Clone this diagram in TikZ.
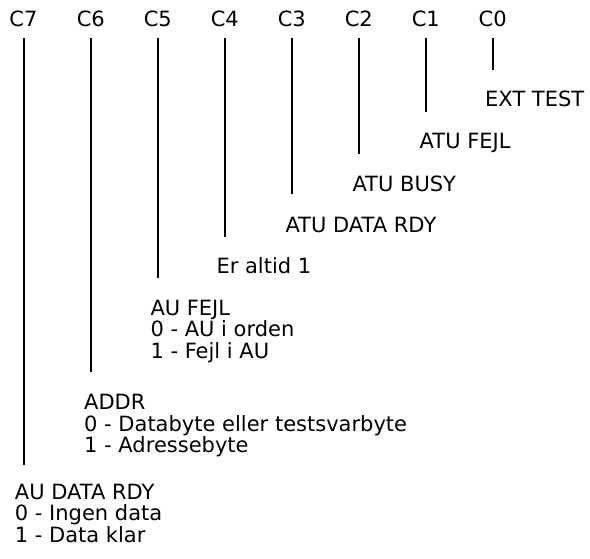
\documentclass[tikz,border=0pt]{standalone}
\usepackage{fontspec}
\setmainfont{DejaVu Sans}
\begin{document}
\begin{tikzpicture}[x=1pt,y=-1pt,
  txt/.style={inner sep=0pt,anchor=base west,font=\fontsize{21}{22}\selectfont},
  bitlbl/.style={inner sep=0pt,anchor=base,font=\fontsize{21}{22}\selectfont},
  bitline/.style={line width=2pt}]
\useasboundingbox (0,0) rectangle (590,558);
% top bit labels
\node[bitlbl] (c7) at (23.5,26.7) {C7};
\node[bitlbl] (c6) at (90.8,26.7) {C6};
\node[bitlbl] (c5) at (157.8,26.7) {C5};
\node[bitlbl] (c4) at (224.8,26.7) {C4};
\node[bitlbl] (c3) at (291.8,26.7) {C3};
\node[bitlbl] (c2) at (358.8,26.7) {C2};
\node[bitlbl] (c1) at (425.8,26.7) {C1};
\node[bitlbl] (c0) at (492.7,26.7) {C0};
% line ends
\coordinate (e7) at (23.5,465);
\coordinate (e6) at (90.8,372);
\coordinate (e5) at (157.8,278);
\coordinate (e4) at (224.8,237);
\coordinate (e3) at (291.8,194);
\coordinate (e2) at (358.8,153.5);
\coordinate (e1) at (425.8,111.7);
\coordinate (e0) at (492.7,70);
\foreach \i in {0,...,7}{
  \draw[bitline] ([yshift=-11.6pt]c\i.base) -- (e\i);
}
% descriptions
\node[txt] (t0) at (485,106) {EXT TEST};
\node[txt] (t1) at (419.5,148.3) {ATU FEJL};
\node[txt] (t2) at (352.3,191) {ATU BUSY};
\node[txt] (t3) at (285.3,232.7) {ATU DATA RDY};
\node[txt] (t4) at (216.3,273.3) {Er altid 1};
\node[txt] (t5a) at (150.3,315) {AU FEJL};
\node[txt] (t5b) at (150.3,336.7) {0 - AU i orden};
\node[txt] (t5c) at (150.3,358.4) {1 - Fejl i AU};
\node[txt] (t6a) at (84,409.5) {ADDR};
\node[txt] (t6b) at (84,431.2) {0 - Databyte eller testsvarbyte};
\node[txt] (t6c) at (84,452.9) {1 - Adressebyte};
\node[txt] (t7a) at (14.7,499) {AU DATA RDY};
\node[txt] (t7b) at (14.7,520.7) {0 - Ingen data};
\node[txt] (t7c) at (14.7,542.4) {1 - Data klar};
\end{tikzpicture}
\end{document}
